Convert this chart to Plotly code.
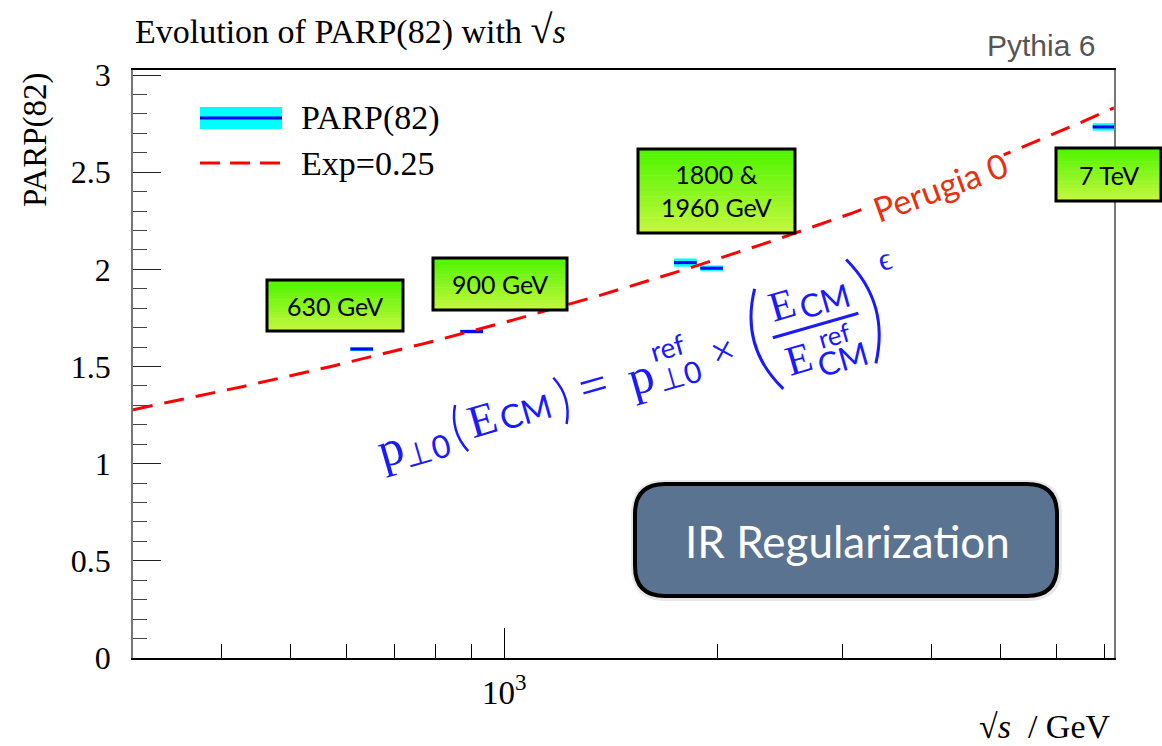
import math
import numpy as np
import plotly.graph_objects as go

# ---- data: PARP(82) tune values at each collider energy ----
energies = [630, 900, 1800, 1960, 7000]           # sqrt(s) in GeV
parp82 = [1.59, 1.68, 2.035, 2.006, 2.733]
parp82_err = [0.011, 0.010, 0.021, 0.014, 0.019]

# energy scaling model  pT0(E) = pT0_ref * (E / E_ref)^exp
pt0_ref = 2.0
e_ref = 1800.0
exponent = 0.25

x_range = [300, 7230]
y_range = [0, 3.026]
y_major = [0, 0.5, 1, 1.5, 2, 2.5, 3]
y_major_text = ["0", "0.5", "1", "1.5", "2", "2.5", "3"]
x_minor = [400, 500, 600, 700, 800, 900, 2000, 3000, 4000, 5000, 6000, 7000]

box_labels = ["630 GeV", "900 GeV", "1800 &<br>1960 GeV", "7 TeV"]

# ---- page geometry (pixels) ----
W, H = 1162, 746
L, R, T, B = 133, 1114, 70, 658
SERIF = "Liberation Serif"
SANS = "Lato"


def px(x):
    return (x - L) / (R - L)


def py(y):
    return (B - y) / (B - T)


fig = go.Figure()

# bands (cyan) and central values (blue)
half_w = 0.016  # half bin width in log10
for e, v, err in zip(energies, parp82, parp82_err):
    lo, hi = e * 10 ** (-half_w), e * 10 ** half_w
    fig.add_trace(go.Scatter(
        x=[lo, hi, hi, lo, lo], y=[v - err, v - err, v + err, v + err, v - err],
        mode="lines", fill="toself", fillcolor="#00ffff",
        line=dict(width=0, color="#00ffff"), hoverinfo="skip", showlegend=False))
    fig.add_trace(go.Scatter(
        x=[lo, hi], y=[v, v], mode="lines",
        line=dict(color="#0000ff", width=3), showlegend=False))

# power-law curve
e_grid = np.logspace(math.log10(x_range[0]), math.log10(x_range[1]), 300)
fig.add_trace(go.Scatter(
    x=e_grid, y=pt0_ref * (e_grid / e_ref) ** exponent, mode="lines",
    line=dict(color="#ff0000", width=3, dash="20px,12px"), showlegend=False))

shapes = []
annotations = []

# ---- legend ----
shapes.append(dict(type="rect", xref="paper", yref="paper",
                   x0=px(200), x1=px(282), y0=py(129), y1=py(107),
                   fillcolor="#00ffff", line=dict(width=0), layer="above"))
shapes.append(dict(type="line", xref="paper", yref="paper",
                   x0=px(200), x1=px(282), y0=py(118), y1=py(118),
                   line=dict(color="#0000ff", width=3), layer="above"))
shapes.append(dict(type="line", xref="paper", yref="paper",
                   x0=px(200), x1=px(282), y0=py(163), y1=py(163),
                   line=dict(color="#ff0000", width=3, dash="20px,10px"), layer="above"))
for txt, yy in [("PARP(82)", 118), ("Exp=0.25", 163)]:
    annotations.append(dict(text=txt, x=px(299), y=py(yy), xref="paper", yref="paper",
                            xanchor="left", yanchor="middle", showarrow=False,
                            font=dict(family=SERIF, size=34, color="black")))

# ---- green energy boxes with a vertical gradient ----
boxes = [(267, 280, 403, 331), (433, 258, 567, 310), (638, 149, 795, 233), (1056, 148, 1161, 201)]
top_rgb = np.array([76, 245, 0])
bot_rgb = np.array([198, 248, 62])
n_strips = 16
for (x0, y0, x1, y1), lab in zip(boxes, box_labels):
    for i in range(n_strips):
        t = (i + 0.5) / n_strips
        c = (top_rgb * (1 - t) + bot_rgb * t).astype(int)
        ya = y0 + (y1 - y0) * i / n_strips
        yb = y0 + (y1 - y0) * (i + 1) / n_strips + 0.6
        shapes.append(dict(type="rect", xref="paper", yref="paper",
                           x0=px(x0), x1=px(x1), y0=py(ya), y1=py(min(yb, y1)),
                           fillcolor=f"rgb({c[0]},{c[1]},{c[2]})", line=dict(width=0),
                           layer="above"))
    shapes.append(dict(type="rect", xref="paper", yref="paper",
                       x0=px(x0), x1=px(x1), y0=py(y0), y1=py(y1),
                       fillcolor="rgba(0,0,0,0)", line=dict(color="black", width=3),
                       layer="above"))
    annotations.append(dict(text=lab, x=px((x0 + x1) / 2), y=py((y0 + y1) / 2),
                            xref="paper", yref="paper", xanchor="center", yanchor="middle",
                            showarrow=False, font=dict(family=SANS, size=25, color="black")))


# ---- rounded "IR Regularization" badge ----
def rounded_path(x0, y0, x1, y1, r):
    X0, X1 = px(x0), px(x1)
    Y0, Y1 = py(y0), py(y1)
    rx, ry = r / (R - L), r / (B - T)
    return (f"M {X0 + rx},{Y0} L {X1 - rx},{Y0} Q {X1},{Y0} {X1},{Y0 - ry} "
            f"L {X1},{Y1 + ry} Q {X1},{Y1} {X1 - rx},{Y1} L {X0 + rx},{Y1} "
            f"Q {X0},{Y1} {X0},{Y1 + ry} L {X0},{Y0 - ry} Q {X0},{Y0} {X0 + rx},{Y0} Z")


shapes.append(dict(type="path", xref="paper", yref="paper",
                   path=rounded_path(631, 480, 1062, 601, 34),
                   fillcolor="rgba(120,120,120,0.18)", line=dict(width=0), layer="above"))
shapes.append(dict(type="path", xref="paper", yref="paper",
                   path=rounded_path(635, 484, 1057, 596, 30),
                   fillcolor="#5a7391", line=dict(color="black", width=4), layer="above"))
annotations.append(dict(text="IR Regularization", x=px(847), y=py(541),
                        xref="paper", yref="paper", xanchor="center", yanchor="middle",
                        showarrow=False, font=dict(family=SANS, size=44, color="white")))

# ---- curve label ----
annotations.append(dict(text="Perugia 0", x=px(940), y=py(186), xref="paper", yref="paper",
                        xanchor="center", yanchor="middle", showarrow=False, textangle=-20,
                        bgcolor="white", borderpad=0,
                        font=dict(family=SANS, size=34, color="#e8300f")))

# ---- rotated formula, laid out along a tilted baseline ----
theta = math.radians(16)
ux, uy = math.cos(theta), -math.sin(theta)
vx, vy = -math.sin(theta), -math.cos(theta)
ox, oy = 382, 455
BLUE = "#1a1aff"


def along(s, h):
    return ox + s * ux + h * vx, oy + s * uy + h * vy


formula_parts = [
    ("p", 10, 4, 50, SERIF),
    ("⊥0", 45, -7, 32, SANS),
    ("E", 106, 7, 46, SERIF),
    ("CM", 150, 3, 33, SANS),
    ("=", 222, 9, 50, SERIF),
    ("p", 270, 5, 50, SERIF),
    ("ref", 304, 25, 28, SANS),
    ("⊥0", 308, -5, 30, SANS),
    ("×", 356, 6, 42, SERIF),
    ("E", 426, 34, 42, SERIF),
    ("CM", 468, 27, 32, SANS),
    ("E", 427, -23, 42, SERIF),
    ("ref", 468, -9, 26, SANS),
    ("CM", 469, -34, 32, SANS),
    ("ϵ", 537, 50, 32, SERIF),
]
for txt, s, h, size, fam in formula_parts:
    cx, cy = along(s, h)
    annotations.append(dict(text=txt, x=px(cx), y=py(cy), xref="paper", yref="paper",
                            xanchor="center", yanchor="middle", showarrow=False,
                            textangle=-16, font=dict(family=fam, size=size, color=BLUE)))

# fraction bar
bx0, by0 = along(408, 5)
bx1, by1 = along(497, 5)
shapes.append(dict(type="line", xref="paper", yref="paper",
                   x0=px(bx0), y0=py(by0), x1=px(bx1), y1=py(by1),
                   line=dict(color=BLUE, width=3), layer="above"))


# parentheses drawn as thin curved strokes in the tilted frame
def paren(s_c, h_c, a, b, side, width):
    x0, y0 = along(s_c, h_c + a)
    x2, y2 = along(s_c, h_c - a)
    xc, yc = along(s_c + side * 2 * b, h_c)
    return dict(type="path", xref="paper", yref="paper",
                path=f"M {px(x0)},{py(y0)} Q {px(xc)},{py(yc)} {px(x2)},{py(y2)}",
                line=dict(color=BLUE, width=width), layer="above")


shapes.append(paren(84, 4, 24, 6, -1, 2.5))
shapes.append(paren(186, 3, 24, 6, +1, 2.5))
shapes.append(paren(404, 5, 52, 15, -1, 3))
shapes.append(paren(500, 6, 54, 15, +1, 3))

# ---- titles and tags ----
ROOT_SIGN = "<span style='font-size:40px'>√</span>"
annotations.append(dict(text=f"Evolution of PARP(82) with {ROOT_SIGN}<i>s</i>", x=px(133), y=py(30),
                        xref="paper", yref="paper", xanchor="left", yanchor="middle",
                        showarrow=False, font=dict(family=SERIF, size=34, color="black")))
annotations.append(dict(text="Pythia 6", x=px(1097), y=py(46), xref="paper", yref="paper",
                        xanchor="right", yanchor="middle", showarrow=False,
                        font=dict(family="Liberation Sans", size=30, color="#555555")))
annotations.append(dict(text="√<i>s</i>  / GeV", x=px(1112), y=py(726), xref="paper",
                        yref="paper", xanchor="right", yanchor="middle", showarrow=False,
                        font=dict(family=SERIF, size=34, color="black")))
annotations.append(dict(text="PARP(82)", x=px(35), y=py(140), xref="paper", yref="paper",
                        xanchor="center", yanchor="middle", showarrow=False, textangle=-90,
                        font=dict(family=SERIF, size=33, color="black")))

fig.update_layout(
    width=W, height=H, autosize=False,
    margin=dict(l=L, r=W - R, t=T, b=H - B, pad=0),
    paper_bgcolor="white", plot_bgcolor="white",
    showlegend=False,
    shapes=shapes, annotations=annotations,
    xaxis=dict(type="log", range=[math.log10(x_range[0]), math.log10(x_range[1])],
               showline=True, linecolor="black", linewidth=1.5, mirror=True,
               ticks="inside", ticklen=30, tickwidth=1.2, tickcolor="black",
               tickmode="array", tickvals=[1000], ticktext=["10<sup>3</sup>"],
               tickfont=dict(family=SERIF, size=33, color="black"), ticklabelstandoff=5,
               showgrid=False, zeroline=False,
               minor=dict(tickmode="array", tickvals=x_minor, ticks="inside",
                          ticklen=14, tickwidth=1.2, tickcolor="black", showgrid=False)),
    yaxis=dict(range=y_range, showline=True, linecolor="#777777", linewidth=1.5, mirror=True,
               ticks="inside", ticklen=28, tickwidth=1.2, tickcolor="#222222",
               tickmode="array", tickvals=y_major, ticktext=y_major_text,
               tickfont=dict(family=SERIF, size=32, color="black"), ticklabelstandoff=14,
               showgrid=False, zeroline=False,
               minor=dict(dtick=0.1, tick0=0, ticks="inside", ticklen=14, tickwidth=1.2,
                          tickcolor="#444444", showgrid=False)),
)

fig.write_html("out.html")
